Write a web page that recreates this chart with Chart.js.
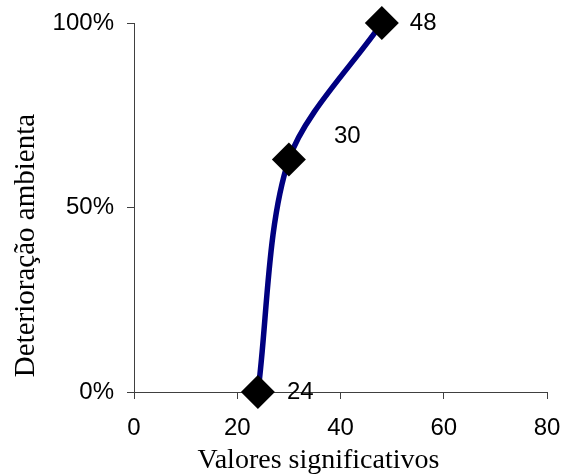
<!DOCTYPE html>
<html>
<head>
<meta charset="utf-8">
<script src="https://cdn.jsdelivr.net/npm/chart.js@4/dist/chart.umd.min.js"></script>
<style>
html,body{margin:0;padding:0;background:#fff;}
canvas{display:block;}
</style>
</head>
<body>
<canvas id="c" width="564" height="474"></canvas>
<script>
// Data
const xValues = [24, 30, 48];          // Valores significativos
const yValues = [0, 63, 100];          // Deterioração ambienta (%)
const pointLabels = ['24', '30', '48'];
const xTicks = [0, 20, 40, 60, 80];
const yTicks = [0, 50, 100];
const xTitle = 'Valores significativos';
const yTitle = 'Deterioração ambienta';

const labelOffsets = [[29, 0], [45, -23], [28, 0]];

const points = xValues.map((x, i) => ({x: x, y: yValues[i]}));

const labelPlugin = {
  id: 'pointLabels',
  afterDatasetsDraw(chart) {
    const ctx = chart.ctx;
    const meta = chart.getDatasetMeta(0);
    ctx.save();
    ctx.font = '24px "Liberation Sans", Arial, sans-serif';
    ctx.fillStyle = '#000';
    ctx.textAlign = 'left';
    ctx.textBaseline = 'middle';
    meta.data.forEach((el, i) => {
      const o = labelOffsets[i];
      ctx.fillText(pointLabels[i], el.x + o[0], el.y + o[1]);
    });
    ctx.restore();
  }
};

const titlePlugin = {
  id: 'axisTitles',
  afterDraw(chart) {
    const ctx = chart.ctx;
    const a = chart.chartArea;
    ctx.save();
    ctx.fillStyle = '#000';
    ctx.textAlign = 'center';
    ctx.textBaseline = 'alphabetic';
    ctx.font = '28px "Liberation Serif", "Times New Roman", serif';
    ctx.fillText(xTitle, 318.5, a.bottom + 76);
    ctx.translate(a.left - 100.5, 245.5);
    ctx.rotate(-Math.PI / 2);
    ctx.font = '29px "Liberation Serif", "Times New Roman", serif';
    ctx.fillText(yTitle, 0, 0);
    ctx.restore();
  }
};

const noPad = () => ({left: 0, top: 0, right: 0, bottom: 0});
const axisColor = '#404040';

new Chart(document.getElementById('c'), {
  type: 'scatter',
  data: {
    datasets: [{
      data: points,
      showLine: true,
      clip: false,
      borderColor: '#000080',
      borderWidth: 5.5,
      tension: 0.3,
      pointStyle: 'rectRot',
      pointRadius: 17,
      pointHoverRadius: 17,
      pointBackgroundColor: '#000',
      pointBorderColor: '#000',
      pointBorderWidth: 0
    }]
  },
  options: {
    responsive: false,
    devicePixelRatio: 1,
    animation: false,
    events: [],
    layout: {padding: {left: 0, right: 13.5, top: 23, bottom: 0}},
    plugins: {legend: {display: false}, tooltip: {enabled: false}},
    scales: {
      x: {
        type: 'linear',
        min: 0, max: 80,
        afterBuildTicks: (s) => { s.ticks = xTicks.map(v => ({value: v})); },
        beforeUpdate: (s) => { s.getPadding = noPad; },
        afterFit: (s) => { s.height = 82; s.paddingLeft = 0; s.paddingRight = 0; },
        ticks: {
          color: '#000',
          font: {family: '"Liberation Sans", Arial, sans-serif', size: 24},
          padding: 15,
          maxRotation: 0
        },
        grid: {drawOnChartArea: false, drawTicks: true, tickLength: 7, color: axisColor, tickColor: axisColor},
        border: {display: true, color: axisColor, width: 1},
        title: {display: false}
      },
      y: {
        type: 'linear',
        min: 0, max: 100,
        afterBuildTicks: (s) => { s.ticks = yTicks.map(v => ({value: v})); },
        beforeUpdate: (s) => { s.getPadding = noPad; },
        afterFit: (s) => { s.width = 134; s.paddingTop = 0; s.paddingBottom = 0; },
        ticks: {
          color: '#000',
          font: {family: '"Liberation Sans", Arial, sans-serif', size: 24},
          padding: 13,
          callback: (v) => v + '%'
        },
        grid: {drawOnChartArea: false, drawTicks: true, tickLength: 7, color: axisColor, tickColor: axisColor},
        border: {display: true, color: axisColor, width: 1},
        title: {display: false}
      }
    }
  },
  plugins: [labelPlugin, titlePlugin]
});
</script>
</body>
</html>
